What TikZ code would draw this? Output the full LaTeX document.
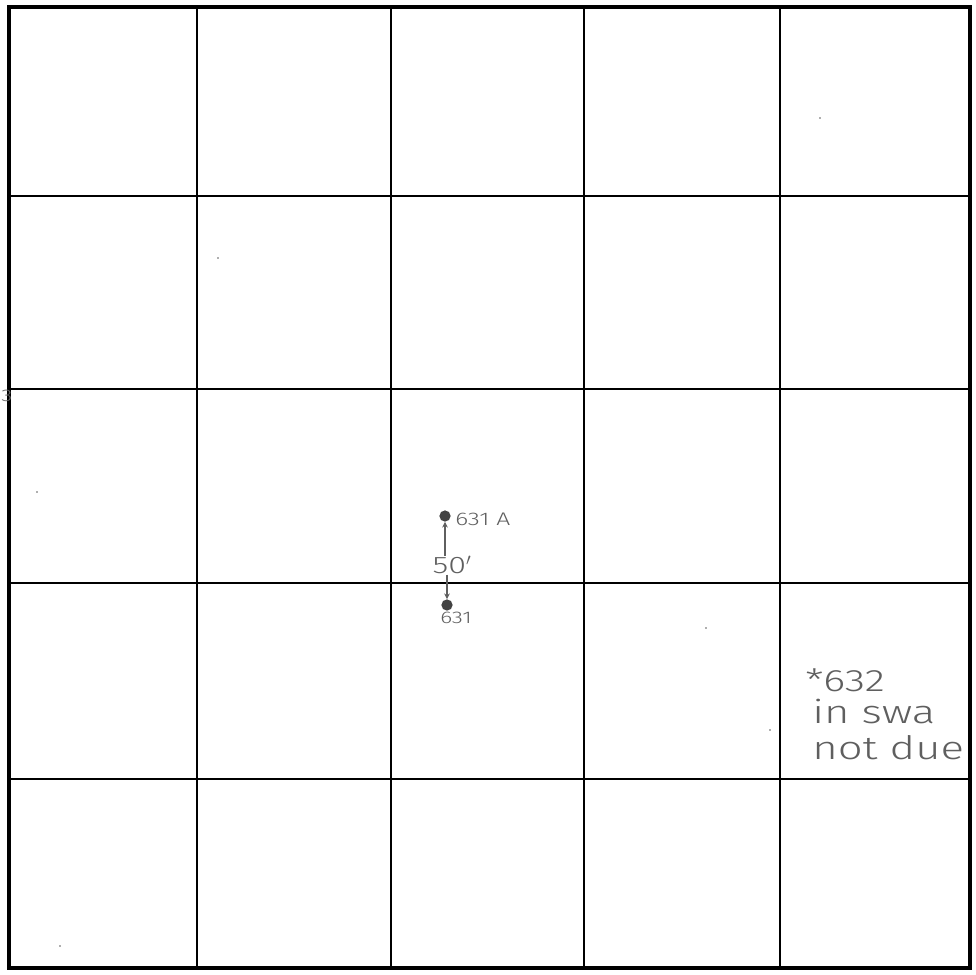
\documentclass[tikz,border=0pt]{standalone}
\usepackage{fontspec}
\setmainfont{Liberation Sans}
\newfontfamily\handfont[FakeStretch=1.35]{Fira Sans Light}
\usetikzlibrary{arrows.meta}
\definecolor{pencil}{RGB}{95,95,95}
\tikzset{
  frame/.style={line width=2.8pt, black},
  gridline/.style={line width=1.4pt, black},
  hand/.style={text=pencil, font=\handfont, inner sep=0pt},
  pdot/.style={circle, fill=pencil!70!black, minimum size=8pt, inner sep=0pt},
  speck/.style={circle, fill=pencil, minimum size=1.2pt, inner sep=0pt},
  parrow/.style={-{Stealth[length=4pt,width=4pt]}, pencil, line width=0.8pt}
}
\begin{document}
\begin{tikzpicture}[x=0.025cm,y=-0.025cm]
\useasboundingbox (0,0) rectangle (975,975);
\fill[white] (0,0) rectangle (975,975);
% grid
\draw[gridline] (197,7) -- (197,968);
\draw[gridline] (391,7) -- (391,968);
\draw[gridline] (584,7) -- (584,968);
\draw[gridline] (780,7) -- (780,968);
\draw[gridline] (9,196) -- (970,196);
\draw[gridline] (9,389) -- (970,389);
\draw[gridline] (9,583) -- (970,583);
\draw[gridline] (9,779) -- (970,779);
\draw[frame] (9,7) rectangle (970,968);
% annotations in centre
\node[pdot] (a) at (445,516) {};
\node[hand, font=\handfont\fontsize{13}{14}\selectfont, anchor=west] (alab) at (455,519) {631 A};
\node[hand, font=\handfont\fontsize{17}{18}\selectfont] (m) at (452,565) {50$'$};
\node[pdot] (b) at (447,605) {};
\node[hand, font=\handfont\fontsize{12}{13}\selectfont, anchor=west] (blab) at (440,618) {631};
\draw[parrow] (m.north -| a) -- (a);
\draw[parrow] (m.south -| b) -- (b);
% right note
\node[hand, font=\handfont\fontsize{22}{24}\selectfont, anchor=west] (n1) at (805,680) {*632};
\node[hand, font=\handfont\fontsize{23}{24}\selectfont, anchor=west] (n2) at (812,711) {in swa};
\node[hand, font=\handfont\fontsize{23}{24}\selectfont, anchor=west] (n3) at (812,748) {not due};
% left edge mark
\node[hand, font=\handfont\fontsize{12}{12}\selectfont, anchor=west] (e) at (1,396) {3};
% specks
\node[speck] (s1) at (820,118) {};
\node[speck] (s2) at (218,258) {};
\node[speck] (s3) at (37,492) {};
\node[speck] (s4) at (706,628) {};
\node[speck] (s5) at (770,730) {};
\node[speck] (s6) at (60,946) {};
\end{tikzpicture}
\end{document}
